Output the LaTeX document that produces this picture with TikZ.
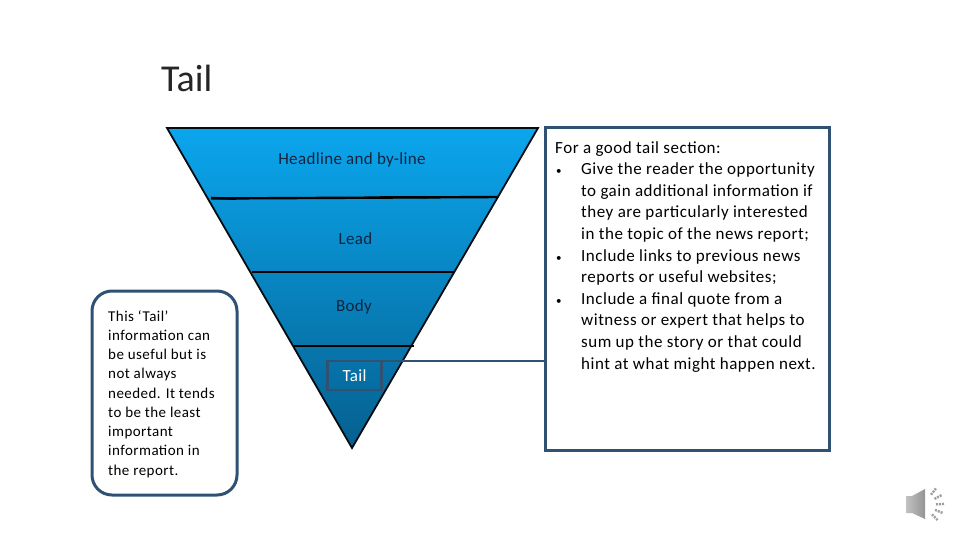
\documentclass[tikz,border=0pt]{standalone}
\usepackage{fontspec}
\setmainfont{Carlito}
\definecolor{boxblue}{HTML}{2F5274}
\definecolor{textblue}{HTML}{10253F}
\definecolor{gradtop}{HTML}{0BA6EE}
\definecolor{gradbot}{HTML}{05608F}
\tikzset{
  x=1pt,y=-1pt,
  outl/.style={draw=boxblue,line width=3pt,fill=white,outer sep=0pt},
  band/.style={draw=black,line width=2.4pt},
  lbl/.style={inner sep=0pt,text=textblue,font=\fontsize{17}{20}\selectfont},
  para/.style={inner sep=0pt,align=left,anchor=north west,text=black},
}
\newcommand{\bul}{\makebox[26pt][l]{\hspace*{1pt}\fontsize{11}{11}\selectfont •}}
\begin{document}
\begin{tikzpicture}
\useasboundingbox (0,0) rectangle (960,540);
\fill[white] (0,0) rectangle (960,540);
\node[inner sep=0pt,anchor=base west,font=\fontsize{38}{44}\selectfont,text=black!85] (title) at (161,91.5) {Tail};
% funnel
\coordinate (ftl) at (167,128);
\coordinate (ftr) at (538,128);
\coordinate (fap) at (352,448);
\path[top color=gradtop,bottom color=gradbot] (ftl) -- (ftr) -- (fap) -- cycle;
\draw[line width=1.8pt,black!85!boxblue,line join=miter] (ftl) -- (ftr) -- (fap) -- cycle;
\coordinate (a1) at (211,198.5); \coordinate (a2) at (498,197);
\coordinate (b1) at (252,272); \coordinate (b2) at (454,272);
\coordinate (c1) at (294,346); \coordinate (c2) at (414,346);
\draw[band] (a1) -- (a2);
\draw[band,line width=2pt] ([yshift=0.8pt]a1) -- (236,199);
\draw[band,line width=2pt] (380,197) -- (427,197.3);
\draw[band] (b1) -- (b2);
\draw[band] (c1) -- (c2);
\node[lbl] (hl) at (352,159.5) {\addfontfeature{LetterSpace=2}Headline and by-line};
\node[lbl] (lead) at (355.5,238.5) {\addfontfeature{LetterSpace=2}Lead};
\node[lbl] (body) at (354,306.5) {\addfontfeature{LetterSpace=2}Body};
% right box
\node[outl,minimum width=284pt,minimum height=323pt,inner sep=0pt,anchor=north west] (rbox) at (545.5,127.5) {};
% tail
\node[draw=boxblue,line width=2.6pt,outer sep=0pt,minimum width=54pt,minimum height=29pt,inner sep=0pt,text=white,font=\fontsize{17}{20}\selectfont] (tailbox) at (354.5,375.5) {\addfontfeature{LetterSpace=2}Tail};
\draw[draw=boxblue,line width=2.4pt] (tailbox.north east) -- (tailbox.north east -| rbox.west);
% left box
\node[outl,rounded corners=20pt,minimum width=145pt,minimum height=204pt,inner sep=0pt,anchor=north west] (lbox) at (92,291) {};
\node[para,font=\fontsize{15}{19.25}\selectfont\addfontfeature{LetterSpace=3}] (ltxt) at (108,310) {This ‘Tail’\\information can\\be useful but is\\not always\\needed. It tends\\to be the least\\important\\information in\\the report.};
\node[para,font=\fontsize{17}{21.6}\selectfont\addfontfeature{LetterSpace=3}] (rtxt) at (555,141) {For a good tail section:\\
\bul Give the reader the opportunity\\
\hspace*{26pt}to gain additional information if\\
\hspace*{26pt}they are particularly interested\\
\hspace*{26pt}in the topic of the news report;\\
\bul Include links to previous news\\
\hspace*{26pt}reports or useful websites;\\
\bul Include a final quote from a\\
\hspace*{26pt}witness or expert that helps to\\
\hspace*{26pt}sum up the story or that could\\
\hspace*{26pt}hint at what might happen next.};
% speaker icon
\path[left color=black!24,right color=black!42] (906,496) -- (912,496) -- (925,489) -- (925,519) -- (912,513) -- (906,513) -- cycle;
\foreach \a in {-52,-28,-3,22,46}{
  \draw[black!38,line width=2.4pt,dash pattern=on 2pt off 1pt] ([shift={(\a:13)}]923,505) -- ([shift={(\a:21)}]923,505);
}
\end{tikzpicture}
\end{document}
